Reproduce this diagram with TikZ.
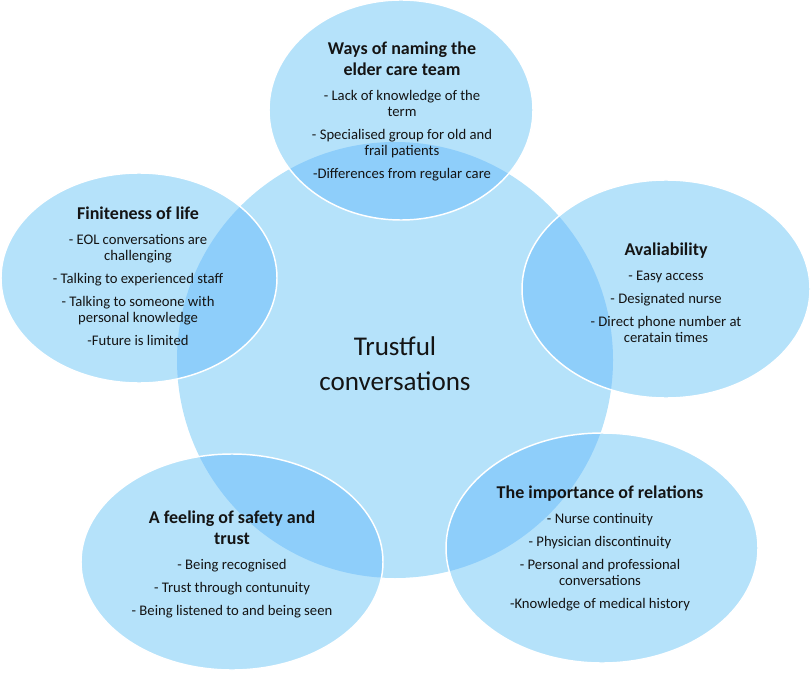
\documentclass[tikz,border=0pt]{standalone}
\usepackage{fontspec}
\setmainfont{Carlito}
\definecolor{lightfill}{RGB}{181,226,250}
\definecolor{darkfill}{RGB}{142,206,250}
\definecolor{txt}{RGB}{20,20,20}
\tikzset{
  bubble/.style={fill=lightfill},
  overlapfill/.style={fill=darkfill},
  rim/.style={draw=white, line width=1.1pt},
  topic/.style={align=center, text=txt, font=\fontsize{11}{12}\selectfont, inner sep=0pt},
  hub/.style={align=center, text=txt, font=\fontsize{20.3}{26}\selectfont, inner sep=0pt}
}
\newcommand{\ttl}[1]{{\bfseries\fontsize{13.5}{15.75}\selectfont #1}}
\begin{document}
\begin{tikzpicture}[x=0.75pt,y=-0.75pt]
\useasboundingbox (0,0) rectangle (812,673);
% central circle
\fill[bubble] (395,360) circle (218);
% outer ellipses: centre, rx, ry
\foreach \cx/\cy/\rx/\ry in {401/110/132/110, 139/278/138/105, 666/289/144/109, 232/562/151/108, 602/548/156/115}{
  \fill[bubble] (\cx,\cy) ellipse [x radius=\rx, y radius=\ry];
  \begin{scope}
    \clip (395,360) circle (218);
    \fill[overlapfill] (\cx,\cy) ellipse [x radius=\rx, y radius=\ry];
  \end{scope}
  \draw[rim] (\cx,\cy) ellipse [x radius=\rx, y radius=\ry];
}
\node[hub] (hub) at (395,364) {Trustful\\conversations};
\node[topic] (naming) at (402,111) {\ttl{Ways of naming the}\\[3.75pt]\ttl{elder care team}\\[6.75pt]
 - Lack of knowledge of the\\term\\[5.25pt]- Specialised group for old and\\frail patients\\[5.25pt]-Differences from regular care};
\node[topic] (finite) at (138,276) {\ttl{Finiteness of life}\\[6.75pt]
 - EOL conversations are\\challenging\\[5.25pt]- Talking to experienced staff\\[5.25pt]- Talking to someone with\\personal knowledge\\[5.25pt]-Future is limited};
\node[topic] (avail) at (666,293) {\ttl{Avaliability}\\[6.75pt]
 - Easy access\\[5.25pt]- Designated nurse\\[5.25pt]- Direct phone number at\\ceratain times};
\node[topic] (safety) at (232,564) {\ttl{A feeling of safety and}\\[3.75pt]\ttl{trust}\\[6.75pt]
 - Being recognised\\[5.25pt]- Trust through contunuity\\[5.25pt]- Being listened to and being seen};
\node[topic] (relations) at (600,548) {\ttl{The importance of relations}\\[6.75pt]
 - Nurse continuity\\[5.25pt]- Physician discontinuity\\[5.25pt]- Personal and professional\\conversations\\[5.25pt]-Knowledge of medical history};
\end{tikzpicture}
\end{document}
